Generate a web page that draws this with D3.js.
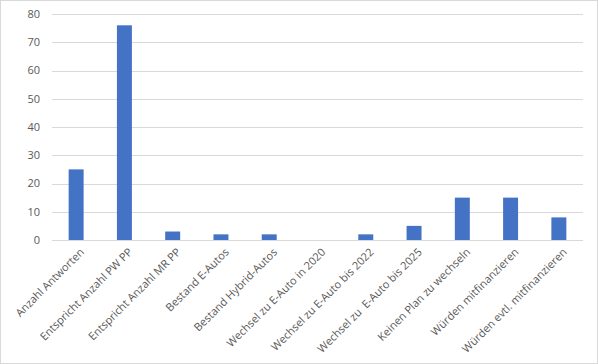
<!DOCTYPE html>
<html>
<head>
<meta charset="utf-8">
<script src="https://cdn.jsdelivr.net/npm/d3@7"></script>
<style>
  body { margin: 0; background: #fff; }
  svg text { font-family: "Open Sans", sans-serif; fill: #595959; white-space: pre; }
</style>
</head>
<body>
<div id="chart"></div>
<script>
// Data
const categories = [
  "Anzahl Antworten",
  "Entspricht Anzahl PW PP",
  "Entspricht Anzahl MR PP",
  "Bestand E-Autos",
  "Bestand Hybrid-Autos",
  "Wechsel zu E-Auto in 2020",
  "Wechsel zu E-Auto bis 2022",
  "Wechsel zu  E-Auto bis 2025",
  "Keinen Plan zu wechseln",
  "Würden mitfinanzieren",
  "Würden evtl. mitfinanzieren"
];
const values = [25, 76, 3, 2, 2, 0, 2, 5, 15, 15, 8];
const yTicks = [0, 10, 20, 30, 40, 50, 60, 70, 80];

const WIDTH = 598;
const HEIGHT = 364;
const MARGIN = { top: 14, right: 15, bottom: 124, left: 52 };

const svg = d3.select("#chart")
    .append("svg")
    .attr("width", WIDTH)
    .attr("height", HEIGHT);

// Chart border
svg.append("rect")
    .attr("x", 0.5).attr("y", 0.5)
    .attr("width", WIDTH - 1).attr("height", HEIGHT - 1)
    .attr("fill", "#fff")
    .attr("stroke", "#d9d9d9");

const innerWidth = WIDTH - MARGIN.left - MARGIN.right;
const innerHeight = HEIGHT - MARGIN.top - MARGIN.bottom;

const g = svg.append("g")
    .attr("transform", `translate(${MARGIN.left},${MARGIN.top})`);

const x = d3.scaleBand()
    .domain(categories)
    .range([0, innerWidth])
    .paddingInner(0.69)
    .paddingOuter(0.345);

const y = d3.scaleLinear()
    .domain([0, 80])
    .range([innerHeight, 0]);

// Gridlines
g.append("g")
    .selectAll("line")
    .data(yTicks)
    .enter()
    .append("line")
    .attr("x1", 0)
    .attr("x2", innerWidth)
    .attr("y1", d => Math.round(y(d)) + 0.5)
    .attr("y2", d => Math.round(y(d)) + 0.5)
    .attr("stroke", "#d9d9d9")
    .attr("stroke-width", 1);

// Y axis labels
g.append("g")
    .selectAll("text")
    .data(yTicks)
    .enter()
    .append("text")
    .attr("x", -12)
    .attr("y", d => y(d))
    .attr("dy", "0.35em")
    .attr("text-anchor", "end")
    .style("font-size", "11px")
    .text(d => d);

// Bars
g.selectAll(".bar")
    .data(values)
    .enter()
    .append("rect")
    .attr("class", "bar")
    .attr("x", (d, i) => x(categories[i]))
    .attr("y", d => y(d))
    .attr("width", x.bandwidth())
    .attr("height", d => innerHeight - y(d))
    .attr("fill", "#4472c4");

// X labels
const step = x.step();
g.append("g")
    .selectAll("text")
    .data(categories)
    .enter()
    .append("text")
    .attr("transform", d => `translate(${x(d) + x.bandwidth() / 2 + 6},${innerHeight + 10}) rotate(-45)`)
    .attr("text-anchor", "end")
    .attr("dy", "0.35em")
    .style("font-size", "11px")
    .text(d => d);
</script>
</body>
</html>
